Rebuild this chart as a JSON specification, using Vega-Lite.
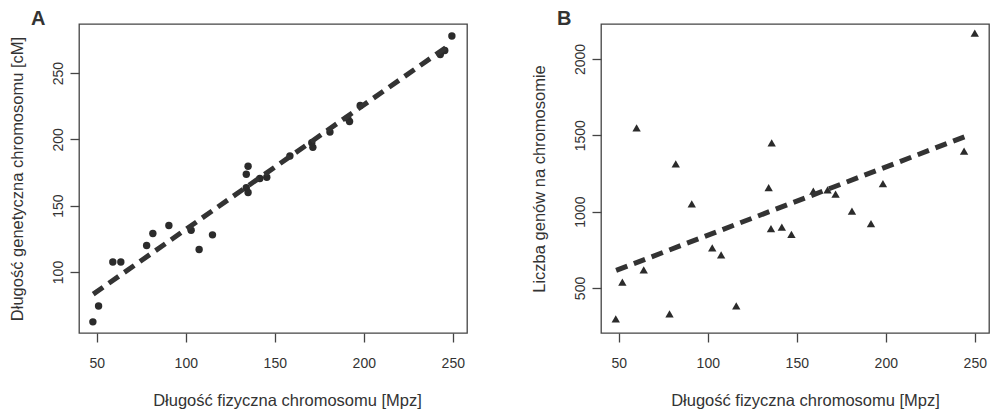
{
  "$schema": "https://vega.github.io/schema/vega-lite/v6.json",
  "background": "white",
  "padding": {"left": 8, "top": 8, "right": 5, "bottom": 5},
  "spacing": 62,
  "config": {
    "font": "Liberation Sans",
    "view": {"stroke": "#444", "strokeWidth": 1.3},
    "axis": {
      "domain": false, "grid": false, "ticks": true,
      "tickColor": "#444", "tickSize": 9, "tickWidth": 1.3,
      "labelFontSize": 14, "titleFontSize": 16.5, "titleFontWeight": "normal",
      "labelColor": "#333", "titleColor": "#333", "labelFont": "Liberation Sans", "titleFont": "Liberation Sans"
    },
    "axisX": {"labelPadding": 14, "titlePadding": 22, "labelAngle": 0},
    "axisY": {"labelAngle": -90, "labelAlign": "center", "labelBaseline": "bottom", "labelPadding": 5, "titlePadding": 26}
  },
  "datasets": {
    "pointsA": [
      {"x": 47.8, "y": 62.4}, {"x": 51, "y": 74.4}, {"x": 59, "y": 107.5}, {"x": 63.5, "y": 107.5},
      {"x": 78, "y": 120}, {"x": 81.5, "y": 129}, {"x": 90.5, "y": 135}, {"x": 103, "y": 131.5},
      {"x": 107.5, "y": 117}, {"x": 115, "y": 128}, {"x": 134, "y": 163.5}, {"x": 135, "y": 160},
      {"x": 134, "y": 173.7}, {"x": 135, "y": 179.7}, {"x": 141.6, "y": 170.5}, {"x": 145.5, "y": 171.5},
      {"x": 158.5, "y": 187.5}, {"x": 170.8, "y": 197.5}, {"x": 171.4, "y": 194}, {"x": 181, "y": 205.5},
      {"x": 191, "y": 216}, {"x": 192, "y": 213.5}, {"x": 198, "y": 225.6}, {"x": 243, "y": 264},
      {"x": 245.5, "y": 267}, {"x": 249.5, "y": 278}
    ],
    "lineA": [{"x": 48, "y": 83.3}, {"x": 248.5, "y": 271.5}],
    "pointsB": [
      {"x": 48.3, "y": 297}, {"x": 52, "y": 539}, {"x": 60, "y": 1548}, {"x": 64, "y": 618},
      {"x": 78.5, "y": 330}, {"x": 82, "y": 1312}, {"x": 91, "y": 1050}, {"x": 102.5, "y": 762},
      {"x": 107.5, "y": 716}, {"x": 116, "y": 382}, {"x": 134.2, "y": 1157}, {"x": 135.9, "y": 1451},
      {"x": 135.5, "y": 888}, {"x": 141.6, "y": 899}, {"x": 147, "y": 851}, {"x": 159.3, "y": 1135},
      {"x": 167.3, "y": 1142}, {"x": 171.8, "y": 1115}, {"x": 181, "y": 1004}, {"x": 191.7, "y": 921},
      {"x": 198.4, "y": 1183}, {"x": 244, "y": 1397}, {"x": 250, "y": 2170}
    ],
    "lineB": [{"x": 48.5, "y": 615}, {"x": 246, "y": 1498}]
  },
  "hconcat": [
    {
      "width": 388, "height": 309,
      "title": {"text": "A", "anchor": "start", "frame": "group", "fontSize": 20, "fontWeight": "bold", "color": "#333", "dx": -48, "dy": 21, "offset": 0, "baseline": "alphabetic"},
      "layer": [
        {
          "data": {"name": "pointsA"},
          "mark": {"type": "circle", "size": 55, "color": "#2b2b2b", "opacity": 1},
          "encoding": {
            "x": {"field": "x", "type": "quantitative", "scale": {"domain": [40, 258], "nice": false, "zero": false},
                  "axis": {"values": [50, 100, 150, 200, 250], "title": "Długość fizyczna chromosomu [Mpz]", "titleX": 208}},
            "y": {"field": "y", "type": "quantitative", "scale": {"domain": [54, 287], "nice": false, "zero": false},
                  "axis": {"values": [100, 150, 200, 250], "format": "d", "title": "Długość genetyczna chromosomu [cM]"}}
          }
        },
        {
          "data": {"name": "lineA"},
          "mark": {"type": "line", "color": "#333", "strokeWidth": 5, "strokeDash": [12, 7], "strokeCap": "butt"},
          "encoding": {
            "x": {"field": "x", "type": "quantitative"},
            "y": {"field": "y", "type": "quantitative"}
          }
        }
      ]
    },
    {
      "width": 388, "height": 309,
      "title": {"text": "B", "anchor": "start", "frame": "group", "fontSize": 20, "fontWeight": "bold", "color": "#333", "dx": -44, "dy": 21, "offset": 0, "baseline": "alphabetic"},
      "layer": [
        {
          "data": {"name": "pointsB"},
          "mark": {"type": "point", "shape": "triangle-up", "size": 70, "filled": true, "color": "#2b2b2b", "opacity": 1},
          "encoding": {
            "x": {"field": "x", "type": "quantitative", "scale": {"domain": [40, 258], "nice": false, "zero": false},
                  "axis": {"values": [50, 100, 150, 200, 250], "title": "Długość fizyczna chromosomu [Mpz]", "titleX": 204}},
            "y": {"field": "y", "type": "quantitative", "scale": {"domain": [205, 2229], "nice": false, "zero": false},
                  "axis": {"values": [500, 1000, 1500, 2000], "format": "d", "title": "Liczba genów na chromosomie"}}
          }
        },
        {
          "data": {"name": "lineB"},
          "mark": {"type": "line", "color": "#333", "strokeWidth": 5, "strokeDash": [12, 7], "strokeCap": "butt"},
          "encoding": {
            "x": {"field": "x", "type": "quantitative"},
            "y": {"field": "y", "type": "quantitative"}
          }
        }
      ]
    }
  ]
}
